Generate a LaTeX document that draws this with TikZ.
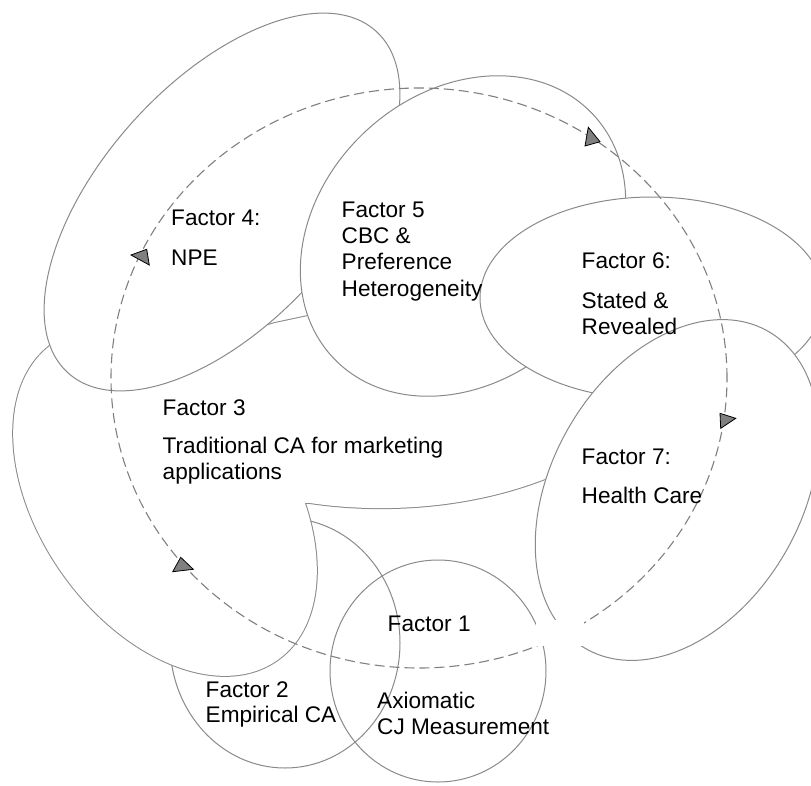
\documentclass[tikz,border=0pt]{standalone}
\usepackage{fontspec}
\setmainfont{Liberation Sans}
\definecolor{edgegray}{HTML}{8A8A8A}
\definecolor{dashgray}{HTML}{808080}
\definecolor{trigray}{HTML}{808080}
\tikzset{
  blob/.style={draw=edgegray, line width=1pt, fill=white},
  ring/.style={draw=edgegray, line width=1pt},
  cyc/.style={draw=dashgray, line width=1.1pt, dash pattern=on 10pt off 5pt},
  tri/.style={fill=trigray, draw=black, line width=0.8pt, line join=miter},
  lbl/.style={anchor=base west, inner sep=0pt, font=\fontsize{22.6}{26}\selectfont}
}
\begin{document}
\begin{tikzpicture}[x=1pt,y=-1pt]
\clip (0,0) rectangle (811,785);
\fill[white] (0,0) rectangle (811,785);
% Factor 2
\draw[ring] (285,643) ellipse [x radius=115pt, y radius=125pt];
% Factor 3 (union of a tilted lobe and a right part)
\draw[edgegray, line width=2pt, rotate around={-54.5:(165,502)}] (165,502) ellipse [x radius=194pt, y radius=125pt];
\draw[edgegray, line width=2pt, line join=miter] (250,500) -- (310,503) .. controls (370,512) and (460,512) .. (545,479) -- (610,440) -- (620,380) -- (470,330) -- (308,316) -- (275,323) -- (200,345) -- (150,400) -- cycle;
\fill[white, rotate around={-54.5:(165,502)}] (165,502) ellipse [x radius=194pt, y radius=125pt];
\fill[white] (250,500) -- (310,503) .. controls (370,512) and (460,512) .. (545,479) -- (610,440) -- (620,380) -- (470,330) -- (308,316) -- (275,323) -- (200,345) -- (150,400) -- cycle;
% Factor 4
\path[blob, rotate around={48:(222,202)}] (222,202) ellipse [x radius=230pt, y radius=120pt];
% Factor 5
\path[blob, rotate around={43:(463,236)}] (463,236) ellipse [x radius=178pt, y radius=143pt];
% Factor 6
\path[blob] (652,298) ellipse [x radius=172pt, y radius=101pt];
% Factor 7
\path[blob, rotate around={60:(677,490)}] (677,490) ellipse [x radius=183pt, y radius=125pt];
% Factor 1
\draw[ring] (438,671) ellipse [x radius=108pt, y radius=111pt];
% dashed cycle
\draw[cyc] (419,378) ellipse [x radius=308pt, y radius=290pt];
\fill[white] (536,620) rectangle (584,646);
% arrow heads
\draw[tri] (131,255) -- (146.7,249.3) -- (149.3,265) -- cycle;
\draw[tri] (588.3,127.3) -- (600,141.7) -- (585,146) -- cycle;
\draw[tri] (180.7,557.3) -- (193.3,569.3) -- (172.7,571.7) -- cycle;
\draw[tri] (720,413.3) -- (735.7,418.3) -- (720.7,428.3) -- cycle;
% labels
\node[lbl] (f4a) at (171,225) {Factor 4:};
\node[lbl] (f4b) at (171,265) {NPE};
\node[lbl] (f5a) at (341.5,217) {Factor 5};
\node[lbl] (f5b) at (341.5,243) {CBC \&};
\node[lbl] (f5c) at (341.5,269) {Preference};
\node[lbl] (f5d) at (341.5,296) {Heterogeneity};
\node[lbl] (f6a) at (581.5,268) {Factor 6:};
\node[lbl] (f6b) at (581.5,308) {Stated \&};
\node[lbl] (f6c) at (581.5,334) {Revealed};
\node[lbl] (f3a) at (162.5,415) {Factor 3};
\node[lbl] (f3b) at (162.5,453) {Traditional CA for marketing};
\node[lbl] (f3c) at (162.5,479) {applications};
\node[lbl] (f7a) at (581.5,464) {Factor 7:};
\node[lbl] (f7b) at (581.5,503) {Health Care};
\node[lbl] (f1a) at (387.5,631) {Factor 1};
\node[lbl] (f1b) at (377,708) {Axiomatic};
\node[lbl] (f1c) at (377,734) {CJ Measurement};
\node[lbl] (f2a) at (205.5,697) {Factor 2};
\node[lbl] (f2b) at (205.5,722) {Empirical CA};
\end{tikzpicture}
\end{document}
